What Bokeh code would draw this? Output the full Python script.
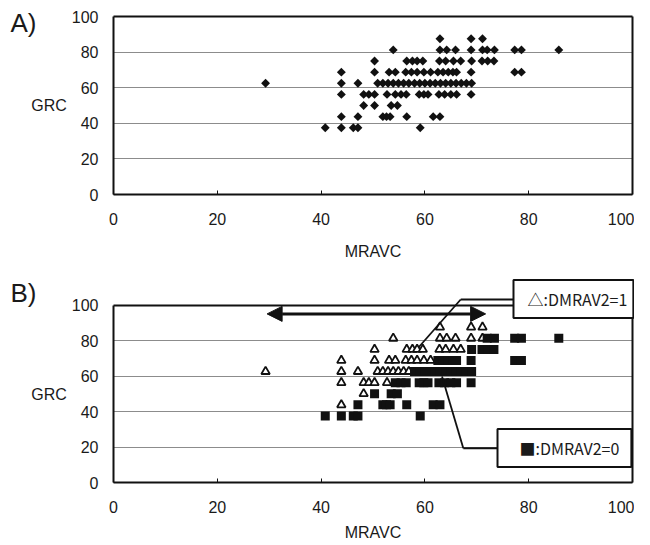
import numpy as np
from bokeh.plotting import figure
from bokeh.models import Range1d, FixedTicker, Label, Arrow, NormalHead, LinearAxis
from bokeh.layouts import column
from bokeh.embed import file_html
from bokeh.resources import INLINE

# ---------------- data ----------------
# DMRAV2 = 1 (open triangles in panel B)
tri_x = [62.9, 68.9, 71.1,
         53.9, 62.9, 64.2, 65.9, 68.9, 71.1,
         50.3, 56.5, 57.6, 58.5, 59.6, 62.8, 64.0, 65.5, 66.9,
         43.9, 50.3, 53.1, 54.3, 56.3, 57.4, 58.5, 59.8, 61.1,
         29.3, 43.9, 47.1, 50.9, 51.9, 52.9, 53.9, 54.9, 55.9, 56.9,
         43.9, 48.2, 49.2, 50.3, 52.7,
         48.2,
         43.9]
tri_y = [87.5] * 3 + [81.25] * 6 + [75.0] * 9 + [68.75] * 9 + [62.5] * 10 + [56.25] * 5 + [50.0] * 1 + [43.75] * 1

# DMRAV2 = 0 (filled squares in panel B)
sq_x = [72.0, 73.4, 77.3, 78.6, 85.8,
        69.0, 71.0, 72.1, 73.3,
        62.5, 63.5, 64.5, 65.4, 66.1, 68.9, 77.3, 78.6,
        58.0, 59.0, 60.0, 61.0, 62.0, 63.0, 64.0, 65.0, 66.0, 67.0, 68.0, 69.0,
        54.3, 55.4, 56.4, 58.9, 59.8, 60.6, 62.7, 63.8, 65.0, 66.1, 68.9,
        50.3, 53.5, 54.7,
        47.1, 51.9, 52.6, 53.3, 56.5, 61.6, 62.9,
        40.8, 43.9, 46.2, 47.1, 59.1]
sq_y = [81.25] * 5 + [75.0] * 4 + [68.75] * 8 + [62.5] * 12 + [56.25] * 11 + [50.0] * 3 + [43.75] * 7 + [37.5] * 5

ticks = [0, 20, 40, 60, 80, 100]
grid_ticks = [20, 40, 60, 80]

all_x = tri_x + sq_x
all_y = tri_y + sq_y

FONT = "Liberation Sans"
BOX_FONT = "Noto Sans CJK JP"
TXT = "#1a1a1a"
INK = "#111111"

W = 634
X_LO, X_HI = -113 / 5.19, (W - 113) / 5.19


def make_fig(height, y_lo, y_hi, xlabel_standoff):
    p = figure(width=W, height=height, x_range=Range1d(X_LO, X_HI), y_range=Range1d(y_lo, y_hi),
               output_backend="svg", toolbar_location=None, min_border=0)
    p.background_fill_color = "white"
    p.border_fill_color = "white"
    p.outline_line_color = None
    p.xgrid.visible = False
    p.ygrid.ticker = FixedTicker(ticks=grid_ticks)
    p.ygrid.cross_bounds = (0, 100)
    p.ygrid.grid_line_color = "#8c8c8c"
    p.ygrid.grid_line_width = 1
    for ax in (p.xaxis[0], p.yaxis[0]):
        ax.fixed_location = 0
        ax.bounds = (0, 100)
        ax.ticker = FixedTicker(ticks=ticks)
        ax.axis_line_color = INK
        ax.axis_line_width = 2
        ax.major_label_text_font = FONT
        ax.major_label_text_font_size = "16px"
        ax.major_label_text_color = TXT
        ax.axis_label_text_font = FONT
        ax.axis_label_text_font_size = "16px"
        ax.axis_label_text_font_style = "normal"
        ax.axis_label_text_color = TXT
        ax.minor_tick_line_color = None
    xa = p.xaxis[0]
    xa.axis_label = "MRAVC"
    xa.major_tick_in = 4
    xa.major_tick_out = 0
    xa.major_tick_line_color = INK
    xa.major_label_standoff = 18
    xa.axis_label_standoff = xlabel_standoff
    ya = p.yaxis[0]
    ya.axis_label = "GRC"
    ya.axis_label_orientation = "horizontal"
    ya.major_tick_in = 0
    ya.major_tick_out = 0
    ya.major_label_standoff = 15
    ya.axis_label_standoff = 2
    # top and right frame edges
    for side in ("above", "right"):
        border = LinearAxis(fixed_location=100, bounds=(0, 100), ticker=FixedTicker(ticks=[]),
                            axis_line_color=INK, axis_line_width=2,
                            major_tick_line_color=None, minor_tick_line_color=None,
                            major_label_text_font_size="0px")
        p.add_layout(border, side)
    return p


# ---------------- panel A ----------------
HA = 275
pa = make_fig(HA, -(HA - 194) / 1.78, 100 + 16 / 1.78, 15)
pa.scatter(all_x, all_y, marker="square", angle=np.pi / 4, size=6.3,
           fill_color=INK, line_color=None)
pa.add_layout(Label(x=-19.85, y=96.1, text="A)", text_font=FONT, text_font_size="26px",
                    text_color=TXT, text_baseline="middle"))

# ---------------- panel B ----------------
HB = 270
TOP_B = 304.5 - HA
BOT_B = 482 - HA
pb = make_fig(HB, -(HB - BOT_B) / 1.775, 100 + TOP_B / 1.775, 8)
pb.scatter(tri_x, tri_y, marker="triangle", size=8.5, fill_color="white",
           line_color=INK, line_width=1.8)
pb.scatter(sq_x, sq_y, marker="square", size=9, fill_color=INK, line_color=None)
pb.add_layout(Label(x=-19.85, y=106.5, text="B)", text_font=FONT, text_font_size="26px",
                    text_color=TXT, text_baseline="middle"))

# double-headed range arrow
pb.add_layout(Arrow(start=NormalHead(size=15, fill_color=INK, line_color=INK, line_width=1),
                    end=NormalHead(size=15, fill_color=INK, line_color=INK, line_width=1),
                    x_start=29.6, y_start=95.0, x_end=71.7, y_end=95.0,
                    line_width=3, line_color=INK))

# leader lines
for (xs, ys, xe, ye) in [(58.8, 76.2, 66.9, 103.1), (66.9, 103.1, 77.1, 103.1),
                         (63.3, 59.7, 67.4, 19.3), (67.4, 19.3, 74.0, 19.3)]:
    pb.add_layout(Arrow(end=None, x_start=xs, y_start=ys, x_end=xe, y_end=ye,
                        line_width=1.8, line_color=INK))

# callout boxes
pb.add_layout(Label(x=77.07, y=103.4, text="\u25b3:DMRAV2=1", text_font=BOX_FONT, text_font_size="16px",
                    text_color=TXT, text_align="left", text_baseline="middle",
                    padding=dict(left=14, right=6, top=7, bottom=7),
                    border_line_color=INK, border_line_width=2,
                    background_fill_color="white"))
pb.add_layout(Label(x=73.99, y=19.4, text="\u25a0:DMRAV2=0", text_font=BOX_FONT, text_font_size="16px",
                    text_color=TXT, text_align="left", text_baseline="middle",
                    padding=dict(left=22, right=12, top=7, bottom=7),
                    border_line_color=INK, border_line_width=2,
                    background_fill_color="white"))

layout = column(pa, pb)
open("out.html", "w").write(file_html(layout, INLINE))
